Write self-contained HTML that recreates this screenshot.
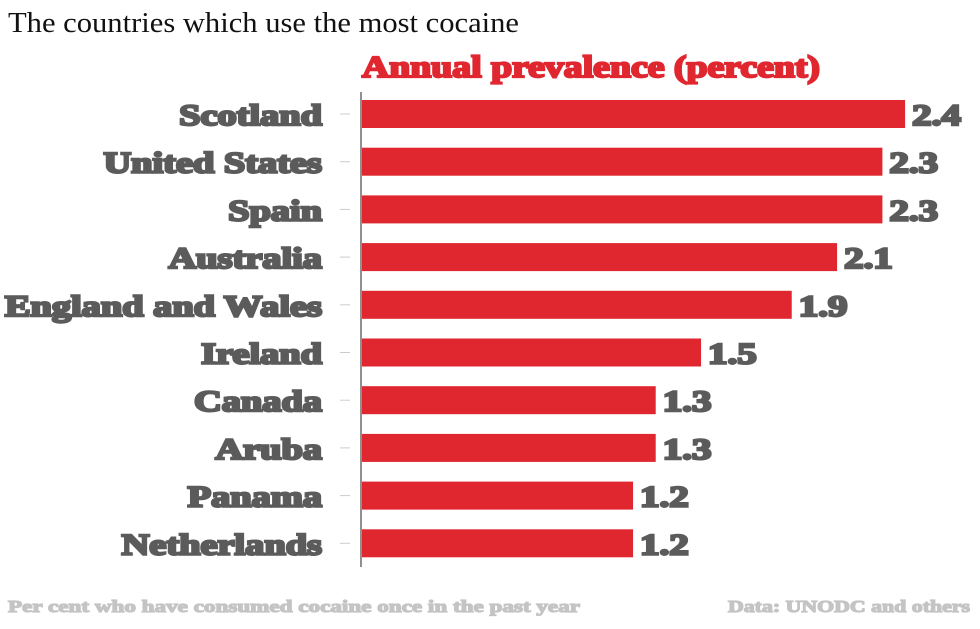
<!DOCTYPE html>
<html><head><meta charset="utf-8"><style>
html,body{margin:0;padding:0;background:#fff;}
svg{display:block;}
.lbl{font-family:"Liberation Serif",serif;font-weight:bold;fill:#5b5b5b;stroke:#5b5b5b;stroke-width:2.4px;}
</style></head><body>
<svg id="chart" width="980" height="629" viewBox="0 0 980 629">
<text x="8" y="32" font-family="Liberation Serif,serif" font-size="28" textLength="511" lengthAdjust="spacingAndGlyphs" fill="#111">The countries which use the most cocaine</text>
<text x="362" y="77" font-family="Liberation Serif,serif" font-weight="bold" font-size="31" textLength="458" lengthAdjust="spacingAndGlyphs" fill="#e0262e" stroke="#e0262e" stroke-width="2.2">Annual prevalence (percent)</text>
<line x1="361" y1="92" x2="361" y2="567" stroke="#222" stroke-width="1"/>
<g id="bars"></g>
<text x="8" y="612" font-family="Liberation Serif,serif" font-weight="bold" font-size="17" textLength="572" lengthAdjust="spacingAndGlyphs" fill="#c4c4c4" stroke="#c4c4c4" stroke-width="1.2">Per cent who have consumed cocaine once in the past year</text>
<text x="728" y="612" font-family="Liberation Serif,serif" font-weight="bold" font-size="17" textLength="242" lengthAdjust="spacingAndGlyphs" fill="#c4c4c4" stroke="#c4c4c4" stroke-width="1.2">Data: UNODC and others</text>
</svg>
<script>
const categories = ["Scotland","United States","Spain","Australia","England and Wales","Ireland","Canada","Aruba","Panama","Netherlands"];
const values = [2.4,2.3,2.3,2.1,1.9,1.5,1.3,1.3,1.2,1.2];
const valueLabels = ["2.4","2.3","2.3","2.1","1.9","1.5","1.3","1.3","1.2","1.2"];

const x0 = 361, pxPerUnit = 226.7;
const xScale = v => x0 + v * pxPerUnit;
const rowTop = 114, rowStep = 47.7, barH = 28;
const yScale = i => rowTop + i * rowStep;
const ns = "http://www.w3.org/2000/svg";
const g = document.getElementById("bars");
categories.forEach((c, i) => {
  const cy = yScale(i);
  const r = document.createElementNS(ns, "rect");
  r.setAttribute("x", x0 + 1);
  r.setAttribute("y", cy - barH / 2);
  r.setAttribute("width", xScale(values[i]) - x0 - 1);
  r.setAttribute("height", barH);
  r.setAttribute("fill", "#e0262e");
  
  
  g.appendChild(r);
  const t = document.createElementNS(ns, "line");
  t.setAttribute("x1", 340); t.setAttribute("x2", 350);
  t.setAttribute("y1", cy); t.setAttribute("y2", cy);
  t.setAttribute("stroke", "#ccc");
  
  
  g.appendChild(t);
  const l = document.createElementNS(ns, "text");
  l.setAttribute("transform", "translate(322," + (cy + 11) + ") scale(1.28,1)");
  l.setAttribute("text-anchor", "end");
  l.setAttribute("font-size", "30");
  l.setAttribute("class", "lbl");
  l.textContent = c;
  
  
  g.appendChild(l);
  const v = document.createElementNS(ns, "text");
  v.setAttribute("transform", "translate(" + (xScale(values[i]) + 7) + "," + (cy + 11) + ") scale(1.3,1)");
  v.setAttribute("font-size", "30");
  v.setAttribute("class", "lbl");
  v.textContent = valueLabels[i];
  
  
  g.appendChild(v);
});
</script>
</body></html>
